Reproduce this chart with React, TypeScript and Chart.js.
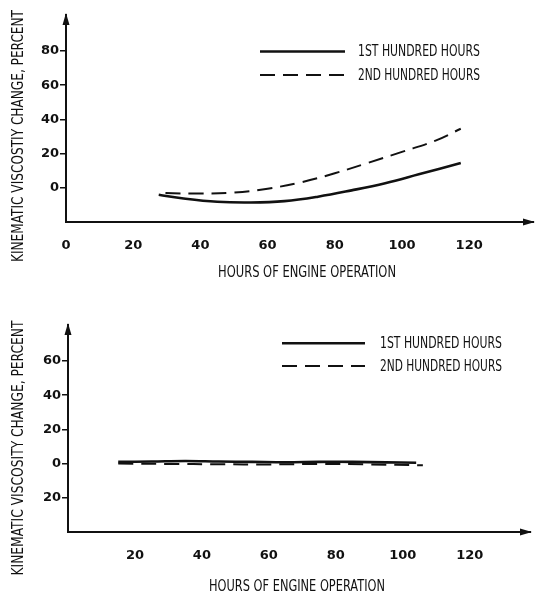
import React, { useEffect, useRef } from "react";
import { Chart, registerables } from "chart.js";

Chart.register(...registerables);

// ---------- data ----------
const topSolidX = [27.6, 35, 45, 55, 65, 75, 85, 95, 105, 117.5];
const topSolidY = [-4.1, -6.3, -8.2, -8.6, -7.8, -5.2, -1.5, 2.7, 7.9, 14.5];
const topDashedX = [29.6, 40, 50, 60, 70, 80, 90, 100, 110, 117.5];
const topDashedY = [-3.1, -3.4, -2.8, -0.5, 3.2, 8.5, 14.6, 21.0, 27.6, 34.5];

const bottomSolidX = [15, 25, 35, 45, 55, 65, 75, 85, 95, 104];
const bottomSolidY = [1.0, 1.2, 1.5, 1.2, 1.0, 0.8, 1.0, 1.0, 0.7, 0.5];
const bottomDashedX = [15, 30, 45, 60, 75, 90, 106];
const bottomDashedY = [0, -0.2, -0.4, -0.5, -0.2, -0.5, -1.0];

const topXTicks = [0, 20, 40, 60, 80, 100, 120];
const topYTicks = [0, 20, 40, 60, 80];
const topYTickLabels = ["0", "20", "40", "60", "80"];
const bottomXTicks = [20, 40, 60, 80, 100, 120];
const bottomYTicks = [-20, 0, 20, 40, 60];
const bottomYTickLabels = ["20", "0", "20", "40", "60"];

const seriesNames = ["1ST HUNDRED HOURS", "2ND HUNDRED HOURS"];
const xTitle = "HOURS OF ENGINE OPERATION";
const topYTitle = "KINEMATIC VISCOSTIY CHANGE, PERCENT";
const bottomYTitle = "KINEMATIC VISCOSITY CHANGE, PERCENT";

const TEXT_FONT = '15px "DejaVu Sans"';

function fitText(
  ctx: CanvasRenderingContext2D,
  text: string,
  cx: number,
  cy: number,
  width: number,
  rotate: boolean
) {
  ctx.save();
  ctx.font = TEXT_FONT;
  ctx.fillStyle = "#111";
  ctx.textAlign = "center";
  ctx.textBaseline = "middle";
  const w = ctx.measureText(text).width;
  ctx.translate(cx, cy);
  if (rotate) ctx.rotate(-Math.PI / 2);
  ctx.scale(width / w, 1);
  ctx.fillText(text, 0, 0);
  ctx.restore();
}

type Deco = {
  yTitle: string;
  yTitlePos: [number, number, number];
  xTitlePos: [number, number, number];
  legendLineX: [number, number];
  legendTextPos: [number, number];
  legendY: [number, number];
};

function makeDecoPlugin(d: Deco) {
  return {
    id: "deco",
    afterDraw(chart: any) {
      const ctx: CanvasRenderingContext2D = chart.ctx;
      const a = chart.chartArea;
      ctx.save();
      ctx.fillStyle = "#111";
      // y arrow
      ctx.beginPath();
      ctx.moveTo(a.left, a.top - 2);
      ctx.lineTo(a.left - 3.5, a.top + 10);
      ctx.lineTo(a.left + 3.5, a.top + 10);
      ctx.closePath();
      ctx.fill();
      // x arrow
      ctx.beginPath();
      ctx.moveTo(a.right + 2, a.bottom);
      ctx.lineTo(a.right - 10, a.bottom - 3.5);
      ctx.lineTo(a.right - 10, a.bottom + 3.5);
      ctx.closePath();
      ctx.fill();
      // legend lines
      ctx.strokeStyle = "#111";
      ctx.lineWidth = 2.5;
      ctx.setLineDash([]);
      ctx.beginPath();
      ctx.moveTo(d.legendLineX[0], d.legendY[0]);
      ctx.lineTo(d.legendLineX[1], d.legendY[0]);
      ctx.stroke();
      ctx.lineWidth = 2;
      ctx.setLineDash([15, 8]);
      ctx.beginPath();
      ctx.moveTo(d.legendLineX[0], d.legendY[1]);
      ctx.lineTo(d.legendLineX[1], d.legendY[1]);
      ctx.stroke();
      ctx.restore();
      fitText(ctx, seriesNames[0], d.legendTextPos[0], d.legendY[0] + 1, d.legendTextPos[1], false);
      fitText(ctx, seriesNames[1], d.legendTextPos[0], d.legendY[1] + 1, d.legendTextPos[1], false);
      fitText(ctx, d.yTitle, d.yTitlePos[0], d.yTitlePos[1], d.yTitlePos[2], true);
      fitText(ctx, xTitle, d.xTitlePos[0], d.xTitlePos[1], d.xTitlePos[2], false);
    },
  };
}

type PanelProps = {
  top: number;
  height: number;
  solidX: number[];
  solidY: number[];
  dashedX: number[];
  dashedY: number[];
  xTicks: number[];
  yTicks: number[];
  yTickLabels: string[];
  xMax: number;
  yMin: number;
  yMax: number;
  left: number;
  padTop: number;
  padRight: number;
  xAxisHeight: number;
  deco: Deco;
};

function Panel(p: PanelProps) {
  const ref = useRef<HTMLCanvasElement>(null);
  useEffect(() => {
    if (!ref.current) return;
    const toPts = (xs: number[], ys: number[]) => xs.map((x, i) => ({ x, y: ys[i] }));
    const tickFont = { family: "DejaVu Sans", size: 13, weight: "bold" as const };
    const chart = new Chart(ref.current, {
      type: "line",
      data: {
        datasets: [
          {
            label: seriesNames[0],
            data: toPts(p.solidX, p.solidY),
            borderColor: "#111",
            borderWidth: 2.6,
            pointRadius: 0,
            tension: 0.4,
            fill: false,
          },
          {
            label: seriesNames[1],
            data: toPts(p.dashedX, p.dashedY),
            borderColor: "#111",
            borderWidth: 2,
            borderDash: [15, 8],
            pointRadius: 0,
            tension: 0.4,
            fill: false,
          },
        ],
      },
      options: {
        animation: false,
        responsive: false,
        devicePixelRatio: 1,
        layout: { padding: { left: 0, top: p.padTop, right: p.padRight, bottom: 0 } },
        plugins: { legend: { display: false }, tooltip: { enabled: false }, title: { display: false } },
        scales: {
          x: {
            type: "linear",
            min: 0,
            max: p.xMax,
            grid: { display: false },
            border: { display: true, color: "#111", width: 2 },
            ticks: {
              color: "#111",
              font: tickFont,
              padding: 8,
              maxRotation: 0,
              autoSkip: false,
            },
            afterBuildTicks: (s: any) => {
              s.ticks = p.xTicks.map((v) => ({ value: v }));
            },
            afterFit: (s: any) => {
              s.height = p.xAxisHeight;
            },
          },
          y: {
            type: "linear",
            min: p.yMin,
            max: p.yMax,
            grid: { display: true, drawOnChartArea: false, tickLength: 6, color: "#111", lineWidth: 1.5 },
            border: { display: true, color: "#111", width: 2 },
            ticks: {
              color: "#111",
              font: tickFont,
              padding: 1,
              autoSkip: false,
              callback: (v: any) => {
                const i = p.yTicks.indexOf(Number(v));
                return i >= 0 ? p.yTickLabels[i] : "";
              },
            },
            afterBuildTicks: (s: any) => {
              s.ticks = p.yTicks.map((v) => ({ value: v }));
            },
            afterFit: (s: any) => {
              s.width = p.left;
            },
          },
        },
      } as any,
      plugins: [makeDecoPlugin(p.deco)],
    });
    return () => chart.destroy();
  }, []);
  return (
    <canvas
      ref={ref}
      width={536}
      height={p.height}
      style={{ position: "absolute", left: 0, top: p.top, width: 536, height: p.height }}
    />
  );
}

export default function App() {
  return (
    <div style={{ position: "absolute", left: 0, top: 0, width: 536, height: 596, background: "#fff" }}>
      <Panel
        top={0}
        height={300}
        solidX={topSolidX}
        solidY={topSolidY}
        dashedX={topDashedX}
        dashedY={topDashedY}
        xTicks={topXTicks}
        yTicks={topYTicks}
        yTickLabels={topYTickLabels}
        xMax={139}
        yMin={-20}
        yMax={101}
        left={66}
        padTop={15}
        padRight={3}
        xAxisHeight={78}
        deco={{
          yTitle: topYTitle,
          yTitlePos: [19, 136, 252],
          xTitlePos: [307, 273, 178],
          legendLineX: [260, 345],
          legendTextPos: [419, 122],
          legendY: [51.5, 75],
        }}
      />
      <Panel
        top={300}
        height={296}
        solidX={bottomSolidX}
        solidY={bottomSolidY}
        dashedX={bottomDashedX}
        dashedY={bottomDashedY}
        xTicks={bottomXTicks}
        yTicks={bottomYTicks}
        yTickLabels={bottomYTickLabels}
        xMax={138}
        yMin={-40}
        yMax={81}
        left={68}
        padTop={25}
        padRight={6}
        xAxisHeight={64}
        deco={{
          yTitle: bottomYTitle,
          yTitlePos: [19, 148, 255],
          xTitlePos: [297, 287, 176],
          legendLineX: [282, 365],
          legendTextPos: [441, 122],
          legendY: [43.3, 66],
        }}
      />
    </div>
  );
}
